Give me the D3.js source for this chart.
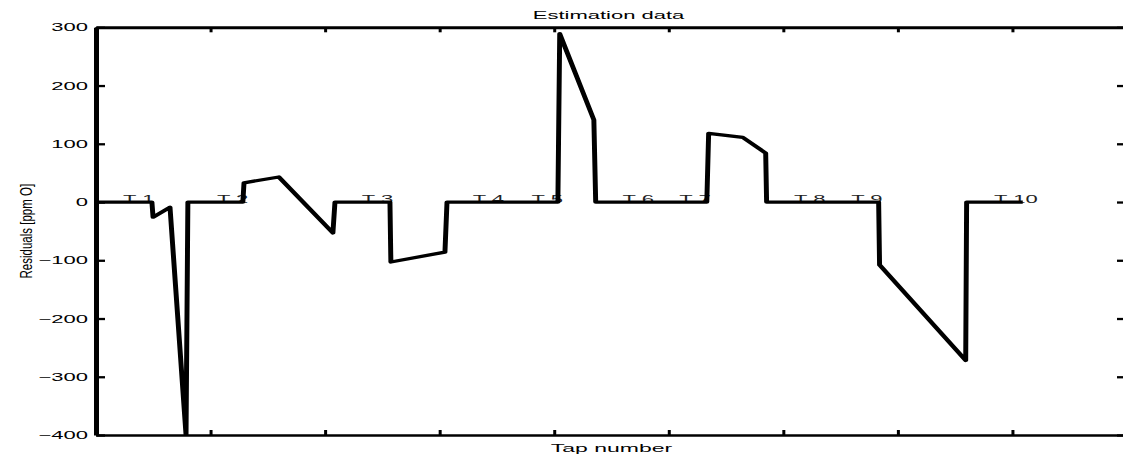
<!DOCTYPE html>
<html>
<head>
<meta charset="utf-8">
<script src="https://cdn.jsdelivr.net/npm/d3@7"></script>
<style>
  body { margin: 0; background: #fff; }
  svg { display: block; }
  text { font-family: "Liberation Sans", Arial, sans-serif; fill: #000; }
</style>
</head>
<body>
<div id="chart"></div>
<script>
// sample index of each vertex of the residual curve
const sampleIdx = [0, 24.4, 24.9, 32.3, 39.3, 40.1, 64.1, 64.6, 79.8, 103.4, 104.3,
  128.3, 128.7, 152.3, 153.2, 201.6, 202.4, 217.3, 218.1, 266.6, 267.4, 282.3,
  292.3, 292.7, 341.6, 342.0, 379.6, 380.0, 404.5];
// residual value at each vertex [ppm O]
const residuals = [0, 0, -26, -9, -400, 0, 0, 33, 43, -53, 0,
  0, -103, -86, 0, 0, 289, 141, 0, 0, 118, 111,
  84, 0, 0, -108, -272, 0, 0];

const tapLabels = ['T 1', 'T 2', 'T 3', 'T 4', 'T 5', 'T 6', 'T 7', 'T 8', 'T 9', 'T 10'];
const tapLabelX = [11.8, 52.8, 116.0, 164.4, 190.1, 229.8, 254.6, 304.7, 329.6, 392.0];

const yTicks = [300, 200, 100, 0, -100, -200, -300, -400];
const xTicks = [0, 50, 100, 150, 200, 250, 300, 350, 400, 450];

const W = 1123, H = 457;
const mLeft = 96, mRight = 1127, mTop = 27.3, mBottom = 435;
const SX = 2;      // the text in the original is drawn twice as wide
const LINE_SX = 1.5; // vertical strokes are wider than horizontal ones

const svg = d3.select('#chart').append('svg')
    .attr('width', W)
    .attr('height', H);

const x = d3.scaleLinear().domain([0, 450]).range([mLeft, mRight]);
const y = d3.scaleLinear().domain([-400, 300]).range([mBottom, mTop]);

// move the x of each label into a transform so it can be stretched
function stretch(sel, sx) {
    sel.each(function() {
        const t = d3.select(this);
        const tx = +t.attr('x') || 0;
        const ty = +t.attr('y') || 0;
        t.attr('x', 0).attr('y', 0)
            .attr('transform', `translate(${tx},${ty}) scale(${sx},1)`);
    });
}

svg.append('clipPath').attr('id', 'plot')
    .append('rect')
    .attr('x', mLeft).attr('y', mTop)
    .attr('width', mRight - mLeft).attr('height', mBottom - mTop);

// tap labels sit on the zero line, under the curve
svg.append('g').selectAll('text')
    .data(tapLabels)
    .enter()
    .append('text')
    .attr('x', (d, i) => x(tapLabelX[i]))
    .attr('y', y(0) + 0.5)
    .attr('font-size', 11)
    .style('fill', '#222')
    .text(d => d)
    .call(stretch, SX);

const line = d3.line()
    .x((d, i) => x(sampleIdx[i]) / LINE_SX)
    .y(d => y(d));

svg.append('g')
    .attr('clip-path', 'url(#plot)')
    .append('g')
    .attr('transform', `scale(${LINE_SX},1)`)
    .append('path')
    .datum(residuals)
    .attr('fill', 'none')
    .attr('stroke', '#000')
    .attr('stroke-width', 3.3)
    .attr('stroke-linejoin', 'round')
    .attr('d', line);

// axes
const gLeft = svg.append('g')
    .attr('transform', `translate(${mLeft},0)`)
    .call(d3.axisLeft(y).tickValues(yTicks).tickSize(-9).tickSizeOuter(0).tickPadding(8)
        .tickFormat(d => d < 0 ? '\u2212' + Math.abs(d) : d));
gLeft.select('.domain').attr('stroke-width', 5);
gLeft.selectAll('.tick line').attr('stroke-width', 2.3);
gLeft.selectAll('.tick text')
    .attr('font-size', 11)
    .call(stretch, SX);
gLeft.attr('font-family', null).attr('font-size', null);

const gRight = svg.append('g')
    .attr('transform', `translate(${mRight},0)`)
    .call(d3.axisRight(y).tickValues(yTicks).tickSize(-10).tickSizeOuter(0).tickFormat(''));
gRight.selectAll('.tick line').attr('stroke-width', 2.3);

const gBottom = svg.append('g')
    .attr('transform', `translate(0,${mBottom})`)
    .call(d3.axisBottom(x).tickValues(xTicks).tickSize(-5).tickSizeOuter(0).tickFormat(''));
gBottom.select('.domain').attr('stroke-width', 2.7);
gBottom.selectAll('.tick line').attr('stroke-width', 3);

const gTop = svg.append('g')
    .attr('transform', `translate(0,${mTop})`)
    .call(d3.axisTop(x).tickValues(xTicks).tickSize(-5).tickSizeOuter(0).tickFormat(''));
gTop.select('.domain').attr('stroke-width', 3);
gTop.selectAll('.tick line').attr('stroke-width', 3);

// titles
svg.append('text')
    .attr('x', (mLeft + mRight) / 2 - 3)
    .attr('y', 18.5)
    .attr('text-anchor', 'middle')
    .attr('font-size', 11)
    .text('Estimation data')
    .call(stretch, SX);

svg.append('text')
    .attr('x', (mLeft + mRight) / 2)
    .attr('y', 452)
    .attr('text-anchor', 'middle')
    .attr('font-size', 11.5)
    .text('Tap number')
    .call(stretch, SX);

svg.append('text')
    .attr('transform', `translate(32,${(mTop + mBottom) / 2}) scale(1.4,1) rotate(-90)`)
    .attr('text-anchor', 'middle')
    .attr('font-size', 11.5)
    .text('Residuals [ppm O]');
</script>
</body>
</html>
